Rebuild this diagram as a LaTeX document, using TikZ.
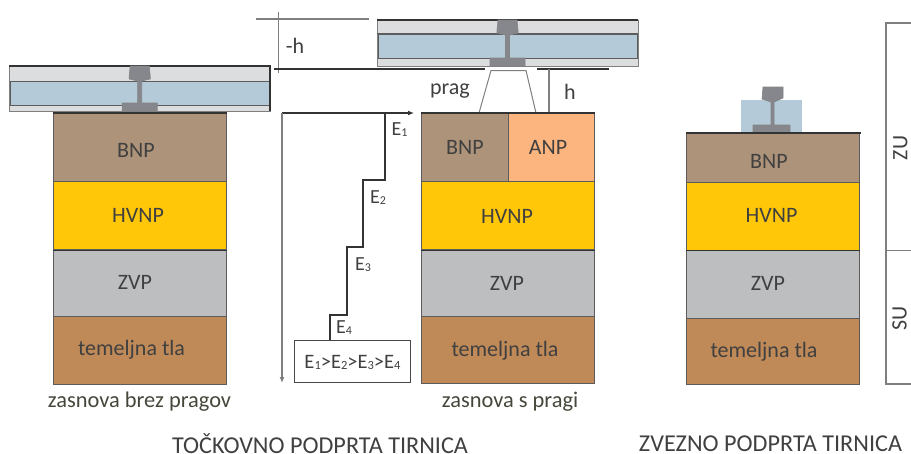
\documentclass[tikz,border=0pt]{standalone}
\usepackage{fontspec}
\usetikzlibrary{arrows.meta}
\setmainfont{Carlito}
\definecolor{bnpc}{HTML}{AD9379}
\definecolor{anpc}{HTML}{FDB57F}
\definecolor{hvc}{HTML}{FFC708}
\definecolor{zvc}{HTML}{BDBEC0}
\definecolor{tlac}{HTML}{C08A58}
\definecolor{bluec}{HTML}{B4CAD8}
\definecolor{stripc}{HTML}{DCDDDF}
\definecolor{railc}{HTML}{85878C}
\definecolor{txtc}{HTML}{404040}
\definecolor{linec}{HTML}{333333}
\definecolor{greyl}{HTML}{7F7F7F}
\newcommand{\Esub}[1]{E\raisebox{-1pt}{\fontsize{12}{12}\selectfont #1}}
\tikzset{
  x=1pt,y=-1pt,
  every node/.style={text=txtc,font=\fontsize{22}{22}\selectfont,inner sep=0pt},
  layer/.style={draw=linec!80,line width=1.2pt,anchor=north west,minimum width=173pt},
  strip/.style={fill=stripc,draw=greyl,line width=.8pt},
  blue/.style={fill=bluec,draw=linec!80,line width=1pt},
  rail/.style={fill=railc,draw=linec!60,line width=.6pt},
  thin line/.style={draw=greyl,line width=1.2pt},
  dark line/.style={draw=linec,line width=1.4pt},
  stair/.style={draw=linec,line width=1.3pt},
  lab/.style={font=\fontsize{22}{22}\selectfont},
  small lab/.style={font=\fontsize{20}{20}\selectfont},
  caption/.style={font=\fontsize{22.4}{23}\selectfont,text=txtc!90!olive},
  title/.style={font=\fontsize{24.2}{25}\selectfont}
}
\newcommand{\railshape}[4]{% cx, top, bottom, foot half width
  \fill[rail] ({#1-9.5},#2) -- ({#1+9.5},#2) -- ({#1+10.5},{#2+10}) -- ({#1+10.5},{#2+13}) -- ({#1+2},{#2+15}) -- ({#1+2},{#3-8}) -- ({#1+#4},{#3-8}) -- ({#1+#4},#3) -- ({#1-#4},#3) -- ({#1-#4},{#3-8}) -- ({#1-2},{#3-8}) -- ({#1-2},{#2+15}) -- ({#1-10.5},{#2+13}) -- ({#1-10.5},{#2+10}) -- cycle;}
\begin{document}
\begin{tikzpicture}
\useasboundingbox (0,0) rectangle (911,453);
% left rail assembly
\path[strip] (9,66) rectangle (270,111);
\path[blue] (10,81) rectangle (269,105);
\draw[dark line] (9,66) -- (270,66) -- (270,111);
\railshape{139.7}{66}{111}{17.5}
% left stack
\node[layer,fill=bnpc,minimum height=68pt] (lb) at (53,113) {};
\node[layer,fill=hvc,minimum height=68pt] (lh) at (53,181) {};
\node[layer,fill=zvc,minimum height=67pt] (lz) at (53,249) {};
\node[layer,fill=tlac,minimum height=67.5pt] (lt) at (53,316) {};
\draw[dark line] (lb.north west) -- (lb.north east);
\draw[dark line] (lh.south west) -- (lh.south east);
\node (lbt) at (136,150) {BNP};
\node (lht) at (138,215) {HVNP};
\node (lzt) at (135,282) {ZVP};
\node (ltt) at (131.5,350) {temeljna tla};
\node[caption] (lc) at (139.5,401.5) {zasnova brez pragov};
% dimension lines
\coordinate (ha) at (256,19);
\coordinate (hb) at (369,19);
\coordinate (hc) at (278,12);
\coordinate (hd) at (278,73);
\coordinate (he) at (274,69);
\coordinate (hf) at (485,69);
\coordinate (hg) at (537,69);
\coordinate (hh) at (609,69);
\draw[thin line] (ha) -- (hb);
\draw[greyl,line width=.9pt] (hc) -- (hd);
\draw[dark line] (he) -- (hf);
\draw[dark line] (hg) -- (hh);
\node[lab] (mh) at (295,46) {-h};
% middle rail
\path[strip] (377,20) rectangle (638,66);
\path[blue] (378,34) rectangle (505,58);
\path[blue] (509,34) rectangle (637,58);
\draw[dark line] (377,20) -- (638,20);
\draw[linec!80,line width=1pt] (377,33.5) -- (638,33.5);
\railshape{507.5}{20}{66}{17.5}
% sleeper
\coordinate (pa) at (479,113);
\coordinate (pb) at (491,70.5);
\coordinate (pc) at (526,70.5);
\coordinate (pd) at (536,113);
\draw[greyl,line width=1pt] (pa) -- (pb) -- (pc) -- (pd);
\node[lab] (prag) at (450,91) {prag};
\coordinate (hi) at (549,69);
\coordinate (hj) at (549,113);
\draw[thin line] (hi) -- (hj);
\node[lab] (hh2) at (570,92) {h};
% middle stack
\node[layer,fill=bnpc,minimum width=87pt,minimum height=68pt] (mb) at (421,113) {};
\node[layer,fill=anpc,minimum width=86.5pt,minimum height=68pt] (ma) at (507.5,113) {};
\node[layer,fill=hvc,minimum height=68pt] (mhv) at (421,181) {};
\node[layer,fill=zvc,minimum height=67pt] (mz) at (421,249) {};
\node[layer,fill=tlac,minimum height=67pt] (mt) at (421,316) {};
\draw[dark line] (mb.north west) -- (ma.north east);
\draw[dark line] (mhv.south west) -- (mhv.south east);
\node (mbt) at (465,147) {BNP};
\node (mat) at (548,147) {ANP};
\node (mht) at (507,216) {HVNP};
\node (mzt) at (507,283) {ZVP};
\node (mtt) at (505,351) {temeljna tla};
\node[caption] (mc) at (510,401.5) {zasnova s pragi};
% axes
\coordinate (o) at (282,113);
\coordinate (xe) at (414,113);
\coordinate (ye) at (282,383);
\draw[dark line,-{Latex[length=6pt,width=5pt]}] (o) -- (xe);
\draw[thin line,-{Latex[length=6pt,width=5pt,fill=linec]}] (o) -- (ye);
% stairs
\node[draw=linec!90,line width=1.1pt,fill=white,minimum width=116pt,minimum height=42pt,anchor=north west] (cmp) at (294,340) {};
\node[font=\fontsize{20.5}{21}\selectfont] at (352.5,362) (cmpt) {E\raisebox{-1pt}{\fontsize{12.5}{12}\selectfont 1}>E\raisebox{-1pt}{\fontsize{12.5}{12}\selectfont 2}>E\raisebox{-1pt}{\fontsize{12.5}{12}\selectfont 3}>E\raisebox{-1pt}{\fontsize{12.5}{12}\selectfont 4}};
\coordinate (s0) at (385,113);
\draw[stair] (s0) -- (385,180) -- (363,180) -- (363,247) -- (347,247) -- (347,315) -- (330,315) -- (330,340);
\node[small lab] (e1) at (399.5,130) {\Esub{1}};
\node[small lab] (e2) at (378,198) {\Esub{2}};
\node[small lab] (e3) at (363,265) {\Esub{3}};
\node[small lab] (e4) at (344,328) {\Esub{4}};
% right
\node[draw=none,fill=bluec,minimum width=61pt,minimum height=33pt,anchor=north west] (rbl) at (741,100) {};
\fill[rail] (763,87) -- (783,87) -- (783,98) -- (774,102) -- (774,125) -- (790,125) -- (790,133) -- (753,133) -- (753,125) -- (771,125) -- (771,102) -- (762,99) -- cycle;
\node[layer,fill=bnpc,minimum height=48.5pt] (rb) at (686,133) {};
\node[layer,fill=hvc,minimum height=68pt] (rh) at (686,181.5) {};
\node[layer,fill=zvc,minimum height=68pt] (rz) at (686,249.5) {};
\node[layer,fill=tlac,minimum height=66.5pt] (rt) at (686,317.5) {};
\draw[linec,line width=1.6pt] (686,133) -- (861,133);
\draw[dark line] (rh.south west) -- (rh.south east);
\node (rbt) at (769,161) {BNP};
\node (rht) at (771.5,215) {HVNP};
\node (rzt) at (768,283) {ZVP};
\node (rtt) at (764,352) {temeljna tla};
% bracket
\coordinate (ba) at (911,23);
\coordinate (bb) at (886,23);
\coordinate (bc) at (886,384);
\coordinate (bd) at (911,384);
\coordinate (be) at (886,250);
\coordinate (bf) at (911,250);
\draw[thin line] (ba) -- (bb) -- (bc) -- (bd);
\draw[greyl,line width=.9pt] (be) -- (bf);
\node[lab,rotate=90] (zu) at (900.5,148) {ZU};
\node[lab,rotate=90] (su) at (899.5,318) {SU};
% titles
\node[title] (t1) at (320,444) {TOČKOVNO PODPRTA TIRNICA};
\node[title] (t2) at (770.5,444) {ZVEZNO PODPRTA TIRNICA};
\end{tikzpicture}
\end{document}
